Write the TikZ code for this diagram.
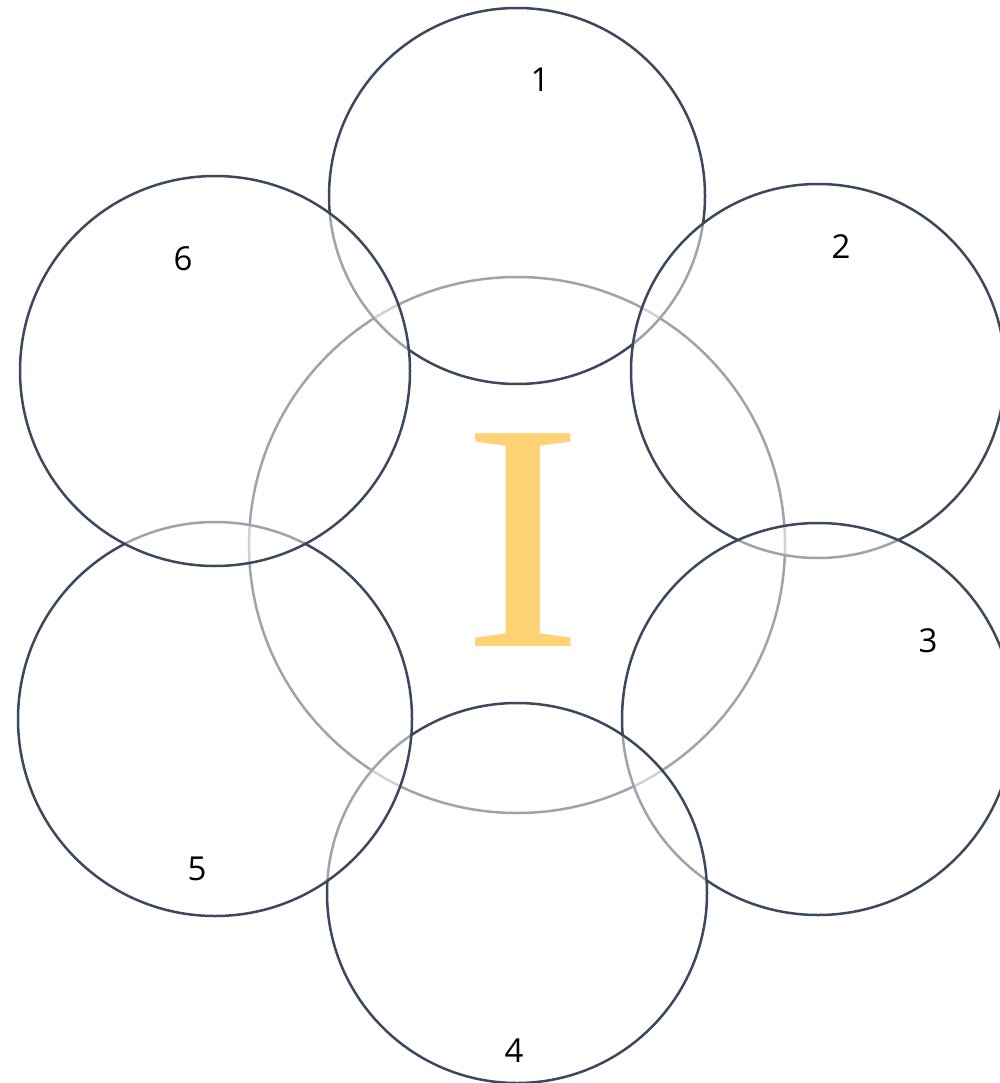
\documentclass[tikz,border=0pt]{standalone}
\usepackage{fontspec}
\setmainfont{Open Sans}
\newfontfamily\serifI{Liberation Serif}
\definecolor{ringc}{HTML}{3C495D}
\definecolor{goldc}{HTML}{FFD275}
\begin{document}
\begin{tikzpicture}[x=1pt,y=-1pt,
  ring/.style={circle, draw=ringc, line width=2.5pt, fill=white, fill opacity=0.5, inner sep=0pt},
  lab/.style={font=\fontsize{33}{40}\selectfont, text=black, inner sep=0pt}]
\useasboundingbox (0,0) rectangle (1000,1083);
\node[ring, minimum size=536pt] (c0) at (517,545) {};
\node[ring, minimum size=376pt] (c1) at (517,196) {};
\node[ring, minimum size=374pt] (c2) at (818,371) {};
\node[ring, minimum size=392pt] (c3) at (818,719) {};
\node[ring, minimum size=380pt] (c4) at (517,893) {};
\node[ring, minimum size=394pt] (c5) at (215,719) {};
\node[ring, minimum size=390pt] (c6) at (215,371) {};
\node[text=goldc, inner sep=0pt, xscale=1.12, transform shape, font=\serifI\fontsize{325}{325}\selectfont] (big) at (523,540) {I};
\node[lab] (l1) at (540,80) {1};
\node[lab] (l2) at (841,247) {2};
\node[lab] (l3) at (928,641) {3};
\node[lab] (l4) at (514,1051) {4};
\node[lab] (l5) at (197,869) {5};
\node[lab] (l6) at (183,259) {6};
\end{tikzpicture}
\end{document}
